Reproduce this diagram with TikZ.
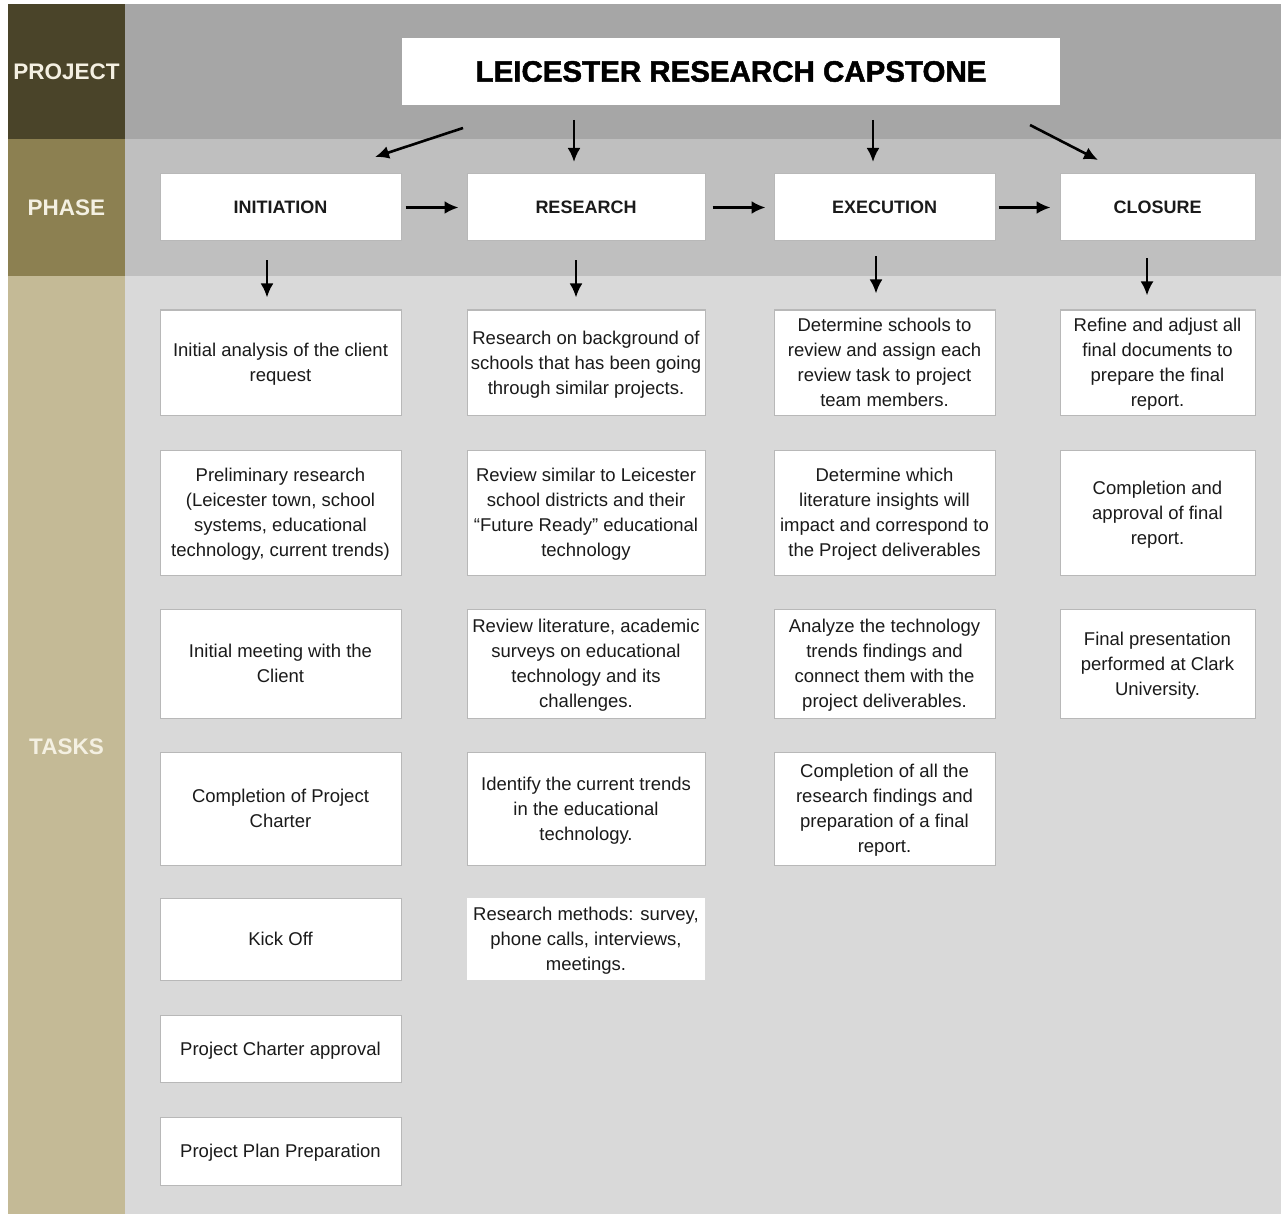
\documentclass[tikz,border=0pt]{standalone}
\usepackage{fontspec}
\setmainfont{Liberation Sans}
\newfontfamily\titlefont{Liberation Sans Bold}[FakeBold=1.6]
\usetikzlibrary{arrows.meta}
\definecolor{projc}{HTML}{4A4429}
\definecolor{phasec}{HTML}{8C8051}
\definecolor{taskc}{HTML}{C4BA96}
\definecolor{bandA}{HTML}{A6A6A6}
\definecolor{bandB}{HTML}{BFBFBF}
\definecolor{bandC}{HTML}{D9D9D9}
\definecolor{boxline}{HTML}{B8B8B8}
\definecolor{labtxt}{HTML}{F4F0E2}
\definecolor{txt}{HTML}{1A1A1A}
\begin{document}
\begin{tikzpicture}[x=1pt,y=-1pt,
  rowlabel/.style={font=\fontsize{22.5}{26}\selectfont\bfseries, text=labtxt},
  phasebox/.style={draw=boxline, line width=1pt, fill=white, inner sep=0pt, minimum height=67pt,
     font=\fontsize{18}{22}\selectfont\bfseries, text=txt},
  taskbox/.style={draw=boxline, line width=1pt, fill=white, inner sep=0pt, align=center,
     font=\fontsize{18.5}{25}\selectfont, text=txt, text depth=-3pt},
  plainbox/.style={fill=white, inner sep=0pt, align=center,
     font=\fontsize{18.5}{25}\selectfont, text=txt, text depth=-3pt},
  arr/.style={line width=2.6pt, draw=black, -{Latex[length=14pt,width=13pt]}},
  cA/.style={minimum width=241pt},
  cB/.style={minimum width=238pt},
  cC/.style={minimum width=221pt},
  cD/.style={minimum width=195pt}
]
\useasboundingbox (0,0) rectangle (1281,1214);
\fill[white] (0,0) rectangle (1281,1214);
% bands
\fill[bandA] (125,4) rectangle (1281,139);
\fill[bandB] (125,139) rectangle (1281,276);
\fill[bandC] (125,276) rectangle (1281,1214);
\fill[projc] (8,4) rectangle (125,139);
\fill[phasec] (8,139) rectangle (125,276);
\fill[taskc] (8,276) rectangle (125,1214);
\node[rowlabel] (lproj) at (66.5,71.5) {PROJECT};
\node[rowlabel] (lphase) at (66.5,207.5) {PHASE};
\node[rowlabel] (ltask) at (66.5,747) {TASKS};

% title
\node[fill=white, minimum width=658pt, minimum height=67pt, inner sep=0pt,
      font=\titlefont\fontsize{29.5}{32}\selectfont, text=black] (title) at (731,71.5) {LEICESTER RESEARCH CAPSTONE};

% phases
\node[phasebox,cA] (init) at (280.5,207.5) {INITIATION};
\node[phasebox,cB] (res)  at (586,207.5) {RESEARCH};
\node[phasebox,cC] (exe)  at (884.5,207.5) {EXECUTION};
\node[phasebox,cD] (clo)  at (1157.5,207.5) {CLOSURE};

% column A tasks
\node[taskbox,cA,minimum height=105pt] (a1) at (280.5,362.5) {Initial analysis of the client\\request};
\node[taskbox,cA,minimum height=125pt] (a2) at (280.5,512.5) {Preliminary research\\(Leicester town, school\\systems, educational\\technology, current trends)};
\node[taskbox,cA,minimum height=109pt] (a3) at (280.5,663.5) {Initial meeting with the\\Client};
\node[taskbox,cA,minimum height=113pt] (a4) at (280.5,808.5) {Completion of Project\\Charter};
\node[taskbox,cA,minimum height=82pt]  (a5) at (280.5,939) {Kick Off};
\node[taskbox,cA,minimum height=67pt]  (a6) at (280.5,1048.5) {Project Charter approval};
\node[taskbox,cA,minimum height=68pt]  (a7) at (280.5,1151) {Project Plan Preparation};

% column B tasks
\node[taskbox,cB,minimum height=105pt] (b1) at (586,362.5) {Research on background of\\schools that has been going\\through similar projects.};
\node[taskbox,cB,minimum height=125pt] (b2) at (586,512.5) {Review similar to Leicester\\school districts and their\\“Future Ready” educational\\technology};
\node[taskbox,cB,minimum height=109pt] (b3) at (586,663.5) {Review literature, academic\\surveys on educational\\technology and its\\challenges.};
\node[taskbox,cB,minimum height=113pt] (b4) at (586,808.5) {Identify the current trends\\in the educational\\technology.};
\node[plainbox,cB,minimum height=82pt] (b5) at (586,939) {Research methods: survey,\\phone calls, interviews,\\meetings.};

% column C tasks
\node[taskbox,cC,minimum height=105pt] (c1) at (884.5,362.5) {Determine schools to\\review and assign each\\review task to project\\team members.};
\node[taskbox,cC,minimum height=125pt] (c2) at (884.5,512.5) {Determine which\\literature insights will\\impact and correspond to\\the Project deliverables};
\node[taskbox,cC,minimum height=109pt] (c3) at (884.5,663.5) {Analyze the technology\\trends findings and\\connect them with the\\project deliverables.};
\node[taskbox,cC,minimum height=113pt] (c4) at (884.5,808.5) {Completion of all the\\research findings and\\preparation of a final\\report.};

% column D tasks
\node[taskbox,cD,minimum height=105pt] (d1) at (1157.5,362.5) {Refine and adjust all\\final documents to\\prepare the final\\report.};
\node[taskbox,cD,minimum height=125pt] (d2) at (1157.5,512.5) {Completion and\\approval of final\\report.};
\node[taskbox,cD,minimum height=109pt] (d3) at (1157.5,663.5) {Final presentation\\performed at Clark\\University.};

% arrows from title
\coordinate (t1s) at (463,128);
\coordinate (t1e) at (375,157);
\coordinate (t2s) at (574,120);
\coordinate (t2e) at (574,162);
\coordinate (t3s) at (873,120);
\coordinate (t3e) at (873,162);
\coordinate (t4s) at (1030,125);
\coordinate (t4e) at (1098,160);
\draw[arr] (t1s) -- (t1e);
\draw[arr] (t2s) -- (t2e);
\draw[arr] (t3s) -- (t3e);
\draw[arr] (t4s) -- (t4e);

% phase to phase
\draw[arr, shorten <=4pt, shorten >=8pt] (init) -- (res);
\draw[arr, shorten <=7pt, shorten >=8pt] (res) -- (exe);
\draw[arr, shorten <=3pt, shorten >=9pt] (exe) -- (clo);

% phase to tasks
\draw[arr, shorten <=19pt, shorten >=12pt] ([xshift=-13.5pt]init.south) -- ([xshift=-13.5pt]a1.north);
\draw[arr, shorten <=19pt, shorten >=12pt] ([xshift=-10pt]res.south) -- ([xshift=-10pt]b1.north);
\draw[arr, shorten <=15pt, shorten >=16pt] ([xshift=-8.5pt]exe.south) -- ([xshift=-8.5pt]c1.north);
\draw[arr, shorten <=17pt, shorten >=14pt] ([xshift=-10.5pt]clo.south) -- ([xshift=-10.5pt]d1.north);
\end{tikzpicture}
\end{document}
